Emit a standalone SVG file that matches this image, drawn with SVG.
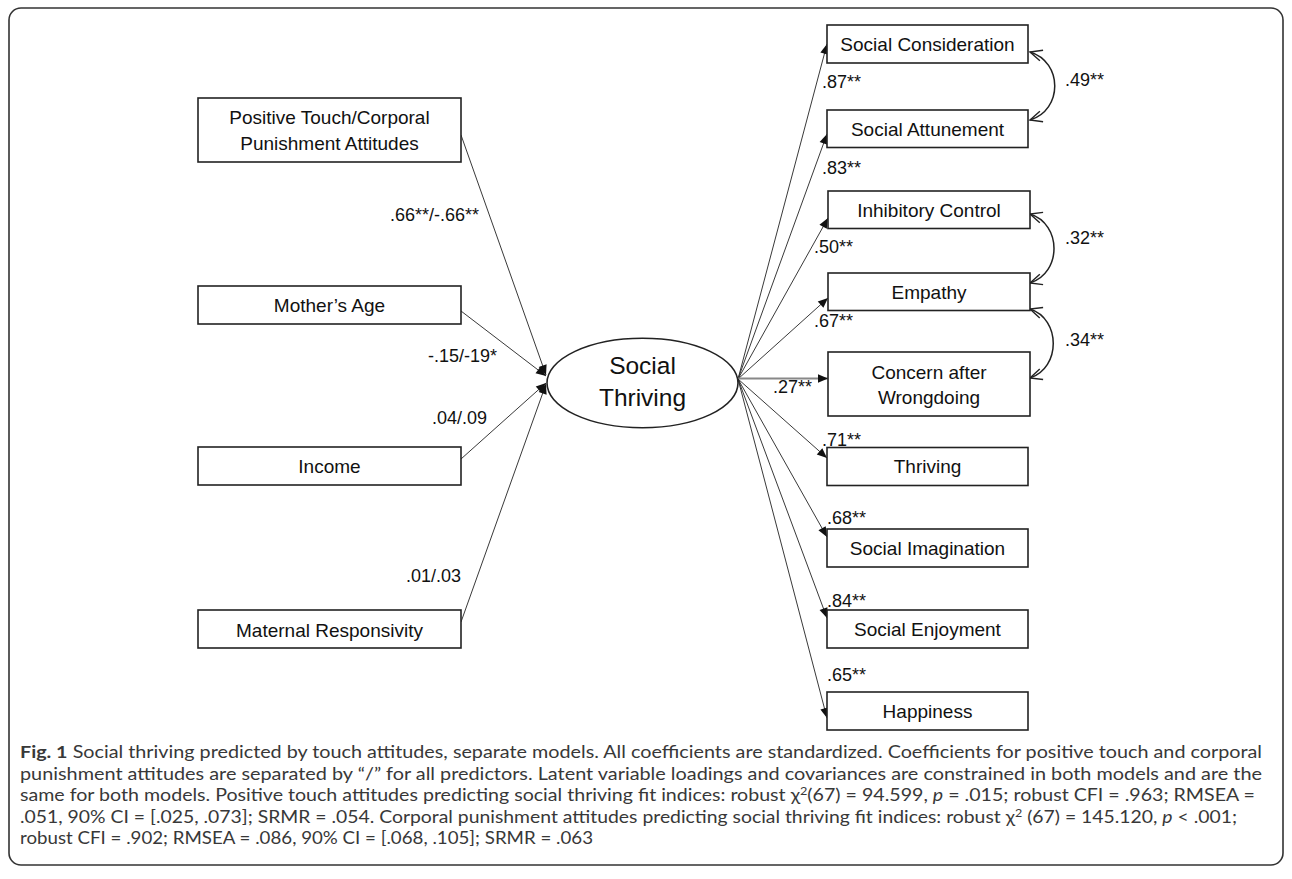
<svg xmlns="http://www.w3.org/2000/svg" width="1292" height="879" viewBox="0 0 1292 879">
<style>
.box{fill:#fff;stroke:#222;stroke-width:1.6}
.lbl{font-family:"Liberation Sans",Arial,sans-serif;font-size:19px;fill:#111;text-anchor:middle}
.big{font-family:"Liberation Sans",Arial,sans-serif;font-size:24.5px;fill:#111;text-anchor:middle}
.coef{font-family:"Liberation Sans",Arial,sans-serif;font-size:18px;fill:#111}
.path{fill:none;stroke:#222;stroke-width:0.9}
.cov{fill:none;stroke:#222;stroke-width:1.5}
.cap{font-family:Lato,"Liberation Sans",sans-serif;font-size:17px;fill:#383838}
</style>
<defs>
<marker id="ah" viewBox="-11 -5 12 10" refX="0" refY="0" markerWidth="12" markerHeight="10" markerUnits="userSpaceOnUse" orient="auto">
<path d="M-10,-4.2 L0,0 L-10,4.2 z" fill="#111"/>
</marker>
<marker id="oa" viewBox="-14 -7 16 14" refX="0" refY="0" markerWidth="16" markerHeight="14" markerUnits="userSpaceOnUse" orient="auto-start-reverse">
<path d="M-12,-5.5 L0,0 L-12,5.5" fill="none" stroke="#222" stroke-width="1.4"/>
</marker>
</defs>
<rect x="9" y="8" width="1274" height="857" rx="12" fill="#fff" stroke="#333" stroke-width="1.6"/>

<g id="connectors">
<line class="path" x1="461" y1="135" x2="546" y2="375" marker-end="url(#ah)"/>
<line class="path" x1="461" y1="311" x2="546" y2="376" marker-end="url(#ah)"/>
<line class="path" x1="461" y1="459" x2="546" y2="383" marker-end="url(#ah)"/>
<line class="path" x1="461" y1="622" x2="546" y2="384" marker-end="url(#ah)"/>
<line class="path" x1="738" y1="379" x2="827" y2="44" marker-end="url(#ah)"/>
<line class="path" x1="738" y1="379" x2="827" y2="134" marker-end="url(#ah)"/>
<line class="path" x1="738" y1="379" x2="828" y2="218" marker-end="url(#ah)"/>
<line class="path" x1="738" y1="379" x2="828" y2="298" marker-end="url(#ah)"/>
<line x1="738" y1="378.5" x2="828" y2="378.5" stroke="#888" stroke-width="2" marker-end="url(#ah)"/>
<line class="path" x1="738" y1="379" x2="827" y2="458" marker-end="url(#ah)"/>
<line class="path" x1="738" y1="379" x2="827" y2="537" marker-end="url(#ah)"/>
<line class="path" x1="738" y1="379" x2="827" y2="618" marker-end="url(#ah)"/>
<line class="path" x1="738" y1="379" x2="827" y2="718" marker-end="url(#ah)"/>
<path class="cov" d="M1030,52 C1063,62 1063,110 1030,120" marker-start="url(#oa)" marker-end="url(#oa)"/>
<path class="cov" d="M1030,214 C1062,224 1062,273 1030,283" marker-start="url(#oa)" marker-end="url(#oa)"/>
<path class="cov" d="M1030,309 C1061,319 1061,368 1030,378" marker-start="url(#oa)" marker-end="url(#oa)"/>
<text class="coef" x="390" y="221">.66**/-.66**</text>
<text class="coef" x="428" y="362">-.15/-19*</text>
<text class="coef" x="432" y="424">.04/.09</text>
<text class="coef" x="406" y="582">.01/.03</text>
<text class="coef" x="822" y="88">.87**</text>
<text class="coef" x="822" y="174">.83**</text>
<text class="coef" x="814" y="253">.50**</text>
<text class="coef" x="814" y="327">.67**</text>
<text class="coef" x="773" y="393">.27**</text>
<text class="coef" x="822" y="446">.71**</text>
<text class="coef" x="827" y="524">.68**</text>
<text class="coef" x="827" y="607">.84**</text>
<text class="coef" x="827" y="681">.65**</text>
<text class="coef" x="1065" y="86">.49**</text>
<text class="coef" x="1065" y="244">.32**</text>
<text class="coef" x="1065" y="346">.34**</text>
</g>

<g id="n-positive"><rect class="box" x="198" y="98" width="263" height="64"/>
<text class="lbl" x="329.5" y="123.5">Positive Touch/Corporal</text>
<text class="lbl" x="329.5" y="149.5">Punishment Attitudes</text></g>
<g id="n-mother"><rect class="box" x="198" y="286" width="263" height="38"/>
<text class="lbl" x="329.5" y="312">Mother’s Age</text></g>
<g id="n-income"><rect class="box" x="198" y="447" width="263" height="38"/>
<text class="lbl" x="329.5" y="473">Income</text></g>
<g id="n-maternal"><rect class="box" x="198" y="610" width="263" height="38"/>
<text class="lbl" x="329.5" y="636.5">Maternal Responsivity</text></g>

<g id="n-social-thriving"><ellipse cx="642.5" cy="383" rx="95.5" ry="44.7" fill="#fff" stroke="#222" stroke-width="1.6"/>
<text class="big" x="642.5" y="374">Social</text>
<text class="big" x="642.5" y="406">Thriving</text></g>

<g id="n-consideration"><rect class="box" x="827" y="25" width="201" height="38"/>
<text class="lbl" x="927.5" y="51">Social Consideration</text></g>
<g id="n-attunement"><rect class="box" x="827" y="110" width="201" height="37.5"/>
<text class="lbl" x="927.5" y="135.5">Social Attunement</text></g>
<g id="n-inhibitory"><rect class="box" x="828" y="191" width="202" height="37.5"/>
<text class="lbl" x="929" y="216.5">Inhibitory Control</text></g>
<g id="n-empathy"><rect class="box" x="828" y="273" width="202" height="37.5"/>
<text class="lbl" x="929" y="298.5">Empathy</text></g>
<g id="n-concern"><rect class="box" x="828" y="352" width="202" height="64"/>
<text class="lbl" x="929" y="378.5">Concern after</text>
<text class="lbl" x="929" y="403.5">Wrongdoing</text></g>
<g id="n-thriving"><rect class="box" x="827" y="447.5" width="201" height="38"/>
<text class="lbl" x="927.5" y="473">Thriving</text></g>
<g id="n-imagination"><rect class="box" x="827" y="529" width="201" height="38"/>
<text class="lbl" x="927.5" y="554.5">Social Imagination</text></g>
<g id="n-enjoyment"><rect class="box" x="827" y="610" width="201" height="38"/>
<text class="lbl" x="927.5" y="635.5">Social Enjoyment</text></g>
<g id="n-happiness"><rect class="box" x="827" y="692" width="201" height="38"/>
<text class="lbl" x="927.5" y="717.5">Happiness</text></g>

<g id="caption">
<text class="cap" x="20" y="758" textLength="1242" lengthAdjust="spacingAndGlyphs"><tspan font-weight="bold">Fig. 1</tspan> Social thriving predicted by touch attitudes, separate models. All coefficients are standardized. Coefficients for positive touch and corporal</text>
<text class="cap" x="20" y="779.5" textLength="1242" lengthAdjust="spacingAndGlyphs">punishment attitudes are separated by “/” for all predictors. Latent variable loadings and covariances are constrained in both models and are the</text>
<text class="cap" x="20" y="801" textLength="1235" lengthAdjust="spacingAndGlyphs">same for both models. Positive touch attitudes predicting social thriving fit indices: robust χ<tspan font-size="11" baseline-shift="super">2</tspan>(67) = 94.599, <tspan font-style="italic">p</tspan> = .015; robust CFI = .963; RMSEA =</text>
<text class="cap" x="20" y="822.5" textLength="1217" lengthAdjust="spacingAndGlyphs">.051, 90% CI = [.025, .073]; SRMR = .054. Corporal punishment attitudes predicting social thriving fit indices: robust χ<tspan font-size="11" baseline-shift="super">2</tspan> (67) = 145.120, <tspan font-style="italic">p</tspan> &lt; .001;</text>
<text class="cap" x="20" y="844" textLength="573" lengthAdjust="spacingAndGlyphs">robust CFI = .902; RMSEA = .086, 90% CI = [.068, .105]; SRMR = .063</text>
</g>
</svg>
